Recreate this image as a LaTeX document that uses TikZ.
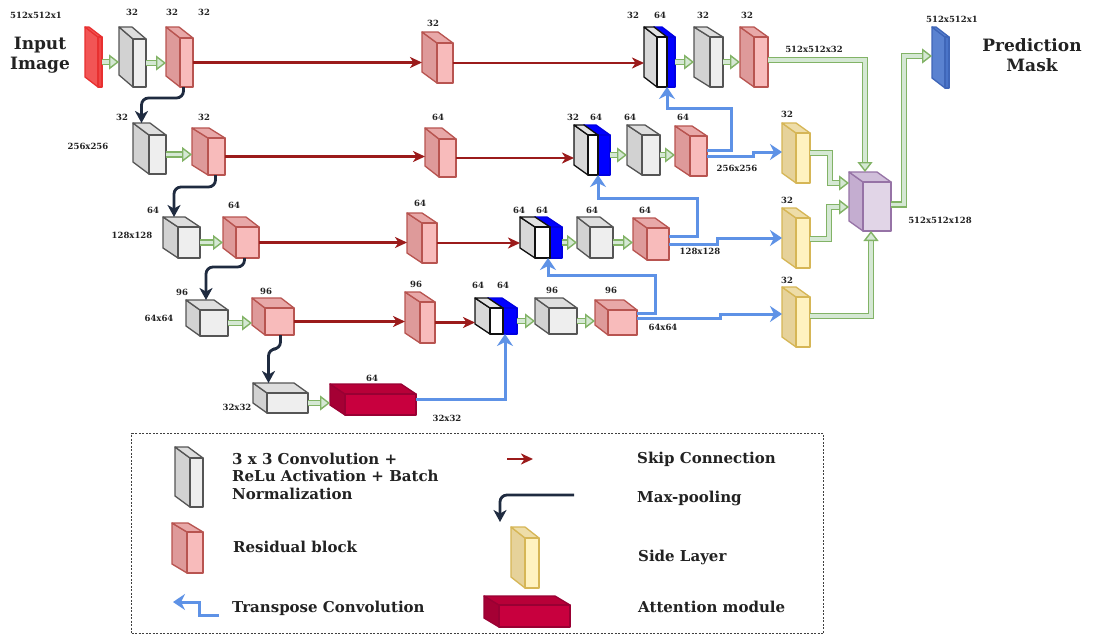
\documentclass[tikz,border=0pt]{standalone}
\usepackage{fontspec}
\setmainfont{DejaVu Serif}
\usetikzlibrary{arrows.meta}
\definecolor{grF}{HTML}{EEEEEE}\definecolor{grS}{HTML}{D2D2D2}\definecolor{grT}{HTML}{DEDEDE}\definecolor{grL}{HTML}{555555}
\definecolor{rdF}{HTML}{F8BBBB}\definecolor{rdS}{HTML}{DE9A9A}\definecolor{rdT}{HTML}{E8A8A8}\definecolor{rdL}{HTML}{B85450}
\definecolor{ylF}{HTML}{FFF2C0}\definecolor{ylS}{HTML}{E6D29A}\definecolor{ylT}{HTML}{EEDDA8}\definecolor{ylL}{HTML}{D6B656}
\definecolor{puF}{HTML}{E1D5E7}\definecolor{puS}{HTML}{C4ADD0}\definecolor{puT}{HTML}{D0BEDA}\definecolor{puL}{HTML}{9673A6}
\definecolor{atF}{HTML}{C8003E}\definecolor{atS}{HTML}{A50034}\definecolor{atT}{HTML}{B80038}\definecolor{atL}{HTML}{990033}
\definecolor{inF}{HTML}{F04545}\definecolor{inS}{HTML}{F25555}\definecolor{inT}{HTML}{F25555}\definecolor{inL}{HTML}{E83030}
\definecolor{prF}{HTML}{4A74C8}\definecolor{prS}{HTML}{5A82D0}\definecolor{prT}{HTML}{5A82D0}\definecolor{prL}{HTML}{3F66B8}
\definecolor{whF}{HTML}{FFFFFF}\definecolor{whS}{HTML}{D8D8D8}\definecolor{whT}{HTML}{E2E2E2}\definecolor{whL}{HTML}{111111}
\definecolor{blF}{HTML}{0000FF}\definecolor{blS}{HTML}{0000FF}\definecolor{blT}{HTML}{0000FF}\definecolor{blL}{HTML}{0000E0}
\definecolor{gDark}{HTML}{82B366}\definecolor{gLight}{HTML}{D5E8D4}
\definecolor{tBlue}{HTML}{5E92E6}\definecolor{skipC}{HTML}{9B1B1B}\definecolor{poolC}{HTML}{1F2B40}
\definecolor{txt}{HTML}{222222}
\newcommand\blk[8]{%
  \filldraw[fill=#8S, draw=#8L, blkline] (#2,#3) -- ++(-#6,-#7) -- ++(0,#5-#3) -- (#2,#5) -- cycle;
  \filldraw[fill=#8T, draw=#8L, blkline] (#2,#3) -- ++(-#6,-#7) -- ++(#4-#2,0) -- (#4,#3) -- cycle;
  \node[blkline, draw=#8L, fill=#8F, inner sep=0pt, outer sep=0pt, anchor=north west,
        minimum width={(#4-#2)*1pt}, minimum height={(#5-#3)*1pt}] (#1) at (#2,#3) {};
  \coordinate (#1-l) at ({#2-#6},{(#3+#5)/2});
  \coordinate (#1-t) at ({(#2+#4)/2-#6},{#3-#7});
}
\newcommand\mylab[4]{\node[lbl] (#1) at (#2,#3) {#4};}
\begin{document}
\begin{tikzpicture}[x=1pt,y=-1pt,
  blkline/.style={line width=1.3pt, line join=round},
  lbl/.style={font=\fontsize{8.5}{9}\selectfont\bfseries, text=txt, inner sep=0pt},
  big/.style={font=\fontsize{17}{20}\selectfont\bfseries, text=txt, align=center, inner sep=0pt},
  leg/.style={font=\fontsize{15}{17.5}\selectfont\bfseries, text=txt, align=left, inner sep=0pt, anchor=west},
  gcon/.style={draw=gDark, double=gLight, double distance=3.8pt, line width=1.4pt,
     -{Triangle[length=10pt,width=15pt,fill=gLight,line width=1.4pt]}},
  skip/.style={draw=skipC, line width=2.1pt, -{Stealth[length=12pt,width=11pt,inset=3.5pt]}},
  pool/.style={draw=poolC, line width=2.8pt, rounded corners=7pt, -{Stealth[length=12pt,width=13pt,inset=3.5pt]}},
  tconv/.style={draw=tBlue, line width=3pt, -{Stealth[length=12pt,width=16pt,inset=4pt]}}
]
\useasboundingbox (0,0) rectangle (1094,637);
\fill[white] (0,0) rectangle (1094,637);

% ---- row 1
\blk{in}{98}{37}{102}{87}{13}{10}{in}
\blk{g1}{133}{39}{146}{87}{14}{12}{gr}
\blk{r1}{180}{38}{193}{87}{14}{11}{rd}
\blk{r1m}{437}{43}{453}{83}{15}{11}{rd}
\blk{c1b}{667}{37}{675}{87}{13}{10}{bl}
\blk{c1}{657}{37}{667}{87}{13}{10}{wh}
\blk{g1b}{710}{37}{723}{87}{16}{10}{gr}
\blk{r1b}{754}{37}{768}{87}{14}{10}{rd}
\blk{pr}{945}{37}{949}{88}{13}{10}{pr}
% ---- row 2
\blk{g2}{149}{135}{166}{174}{16}{12}{gr}
\blk{r2}{208}{138}{225}{175}{16}{10}{rd}
\blk{r2m}{439}{139}{456}{177}{14}{11}{rd}
\blk{c2b}{598}{135}{610}{175}{14}{10}{bl}
\blk{c2}{588}{135}{598}{175}{14}{10}{wh}
\blk{g2b}{642}{135}{660}{175}{15}{10}{gr}
\blk{r2b}{690}{136}{707}{176}{15}{10}{rd}
% ---- row 3
\blk{g3}{178}{227}{200}{258}{15}{10}{gr}
\blk{r3}{236}{227}{259}{258}{13}{10}{rd}
\blk{r3m}{422}{223}{437}{263}{15}{10}{rd}
\blk{c3b}{550}{227}{562}{258}{15}{10}{bl}
\blk{c3}{535}{227}{550}{258}{15}{10}{wh}
\blk{g3b}{590}{227}{613}{258}{13}{10}{gr}
\blk{r3b}{647}{228}{669}{260}{14}{10}{rd}
% ---- row 4
\blk{g4}{200}{310}{228}{336}{14}{10}{gr}
\blk{r4}{265}{308}{294}{335}{13}{10}{rd}
\blk{r4m}{420}{302}{435}{343}{15}{10}{rd}
\blk{c4b}{503}{308}{517}{334}{15}{10}{bl}
\blk{c4}{490}{308}{503}{334}{15}{10}{wh}
\blk{g4b}{549}{308}{577}{334}{14}{10}{gr}
\blk{r4b}{608}{310}{637}{335}{13}{10}{rd}
% ---- row 5
\blk{g5}{267}{393}{308}{413}{14}{10}{gr}
\blk{att}{345}{394}{416}{415}{15}{10}{at}
% ---- side layers and fusion
\blk{s1}{796}{133}{810}{183}{14}{10}{yl}
\blk{s2}{796}{218}{810}{268}{14}{10}{yl}
\blk{s3}{796}{297}{810}{347}{14}{10}{yl}
\blk{pu}{863}{182}{891}{231}{14}{10}{pu}

% ---- texts
\node[big] (inp) at (40,55) {Input\\Image};
\node[big] (pred) at (1032,55) {Prediction\\Mask};
\mylab{t1}{36}{15}{512x512x1}
\mylab{t2}{132}{12}{32}
\mylab{t3}{172}{12}{32}
\mylab{t4}{204}{12}{32}
\mylab{t5}{433}{23}{32}
\mylab{t6}{633}{15}{32}
\mylab{t7}{660}{15}{64}
\mylab{t8}{703}{15}{32}
\mylab{t9}{747}{15}{32}
\mylab{t10}{814}{49}{512x512x32}
\mylab{t11}{952}{19}{512x512x1}
\mylab{t12}{122}{117}{32}
\mylab{t13}{88}{146}{256x256}
\mylab{t14}{204}{117}{32}
\mylab{t15}{438}{117}{64}
\mylab{t16}{573}{117}{32}
\mylab{t17}{596}{117}{64}
\mylab{t18}{630}{117}{64}
\mylab{t19}{683}{117}{64}
\mylab{t20}{737}{168}{256x256}
\mylab{t21}{787}{114}{32}
\mylab{t22}{153}{210}{64}
\mylab{t23}{132}{235}{128x128}
\mylab{t24}{234}{205}{64}
\mylab{t25}{420}{203}{64}
\mylab{t26}{519}{210}{64}
\mylab{t27}{542}{210}{64}
\mylab{t28}{592}{210}{64}
\mylab{t29}{645}{210}{64}
\mylab{t30}{700}{251}{128x128}
\mylab{t31}{787}{200}{32}
\mylab{t32}{182}{292}{96}
\mylab{t33}{159}{318}{64x64}
\mylab{t34}{266}{291}{96}
\mylab{t35}{416}{284}{96}
\mylab{t36}{478}{285}{64}
\mylab{t37}{503}{285}{64}
\mylab{t38}{552}{290}{96}
\mylab{t39}{611}{290}{96}
\mylab{t40}{663}{327}{64x64}
\mylab{t41}{787}{280}{32}
\mylab{t42}{237}{407}{32x32}
\mylab{t43}{372}{378}{64}
\mylab{t44}{447}{418}{32x32}
\mylab{t45}{940}{220}{512x512x128}

% ---- green connectors
\draw[gcon] (in.east) -- (in.east -| g1-l);
\draw[gcon] (g1.east) -- (g1.east -| r1-l);
\draw[gcon] (c1b.east) -- (c1b.east -| g1b-l);
\draw[gcon] (g1b.east) -- (g1b.east -| r1b-l);
\draw[gcon] (g2.east) -- (g2.east -| r2-l);
\draw[gcon] (c2b.east) -- (c2b.east -| g2b-l);
\draw[gcon] (g2b.east) -- (g2b.east -| r2b-l);
\draw[gcon] (g3.east) -- (g3.east -| r3-l);
\draw[gcon] (c3b.east) -- (c3b.east -| g3b-l);
\draw[gcon] (g3b.east) -- (g3b.east -| r3b-l);
\draw[gcon] (g4.east) -- (g4.east -| r4-l);
\draw[gcon] (c4b.east) -- (c4b.east -| g4b-l);
\draw[gcon] (g4b.east) -- (g4b.east -| r4b-l);
\draw[gcon] (g5.east) -- (g5.east -| att-l);
\coordinate (pua) at (849,183);
\coordinate (pub) at (849,207);
\coordinate (prin) at (932,56);
\draw[gcon] ([yshift=2pt]r1b.east) -| ([xshift=2pt]pu-t);
\draw[gcon] ([yshift=5pt]s1.east) -- ++(20,0) |- (pua);
\draw[gcon] ([yshift=4pt]s2.east) -- ++(19,0) |- (pub);
\draw[gcon] ([yshift=6pt]s3.east) -| ([xshift=-6pt]pu.south);
\draw[gcon] ([yshift=2pt]pu.east) -- ++(13,0) |- (prin);

% ---- skip connections
\draw[skip] (r1.east) -- (r1.east -| r1m-l);
\draw[skip] (r1m.east) -- (r1m.east -| c1-l);
\draw[skip] (r2.east) -- (r2.east -| r2m-l);
\draw[skip] (r2m.east) -- (r2m.east -| c2-l);
\draw[skip] (r3.east) -- (r3.east -| r3m-l);
\draw[skip] (r3m.east) -- (r3m.east -| c3-l);
\draw[skip] (r4.east) -- (r4.east -| r4m-l);
\draw[skip] (r4m.east) -- (r4m.east -| c4-l);

% ---- max pooling
\draw[pool] ([xshift=-3pt]r1.south) -- ++(0,11) -| (g2-t);
\draw[pool] ([xshift=-1pt]r2.south) -- ++(0,12) -| (g3-t);
\draw[pool] ([xshift=-3pt]r3.south) -- ++(0,9) -| ([xshift=6pt]g4-t);
\draw[pool] ([xshift=1pt]r4.south) -- ++(0,14) -| ([xshift=-5pt]g5-t);

% ---- transpose convolutions
\coordinate (k1) at (731,108);
\coordinate (k2) at (697,198);
\coordinate (k3) at (655,275);
\draw[tconv] ([yshift=6pt]r2b.east) -| (k1) -| ([xshift=-4pt]c1b.south);
\draw[tconv] (r2b.east) -- ++(46,0) |- ([yshift=6pt]s1-l);
\draw[tconv] ([yshift=8pt]r3b.east) -| (k2) -| ([xshift=-6pt]c2b.south);
\draw[tconv] (r3b.east) -- ++(48,0) |- ([yshift=5pt]s2-l);
\draw[tconv] ([yshift=9pt]r4b.east) -| (k3) -| ([xshift=-8pt]c3b.south);
\draw[tconv] ([yshift=4pt]r4b.east) -- ++(83,0) |- ([yshift=8pt]s3-l);
\draw[tconv] ([yshift=5pt]att.east) -| ([xshift=-5pt]c4b.south);

% ---- legend
\node[draw=black!75, line width=1.2pt, dash pattern=on 2pt off 1.5pt, inner sep=0pt, anchor=north west,
      minimum width=692pt, minimum height=200pt] (legend) at (131,433) {};
\blk{lg}{190}{458}{203}{507}{15}{11}{gr}
\blk{lr}{187}{532}{203}{573}{15}{9}{rd}
\blk{ly}{525}{538}{539}{588}{14}{11}{yl}
\blk{la}{499}{605}{570}{627}{15}{9}{at}
\coordinate (ls1) at (507,459);
\coordinate (ls2) at (533,459);
\draw[skip] (ls1) -- (ls2);
\coordinate (lp1) at (574,495);
\coordinate (lp2) at (500,522);
\draw[pool] (lp1) -| (lp2);
\coordinate (lt1) at (219,615);
\coordinate (lt2) at (199,602);
\coordinate (lt3) at (173,602);
\draw[tconv] (lt1) -| (lt2) -- (lt3);
\node[leg] (x1) at (232,476) {3 x 3 Convolution +\\ReLu Activation + Batch\\Normalization};
\node[leg] (x2) at (233,547) {Residual block};
\node[leg] (x3) at (232,608) {Transpose Convolution};
\node[leg] (x4) at (637,459) {Skip Connection};
\node[leg] (x5) at (637,498) {Max-pooling};
\node[leg] (x6) at (638,557) {Side Layer};
\node[leg] (x7) at (638,607) {Attention module};
\end{tikzpicture}
\end{document}
